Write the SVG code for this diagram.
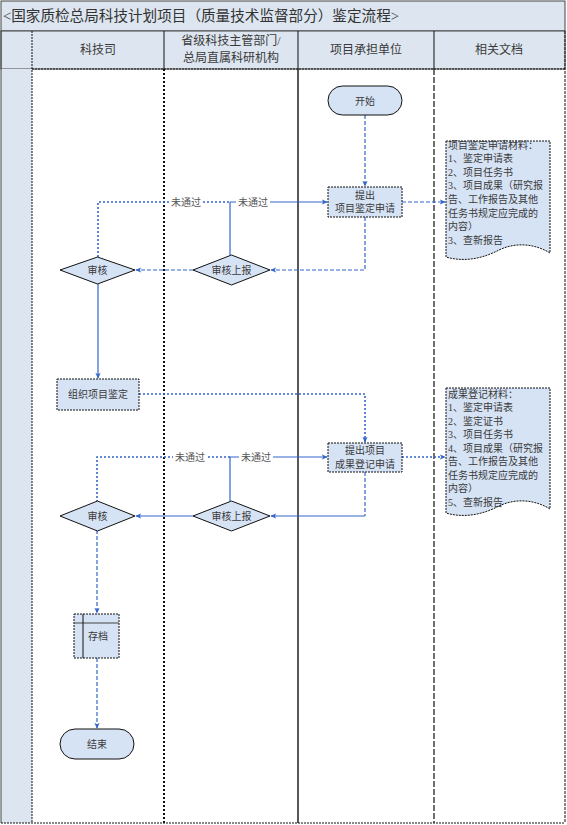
<svg xmlns="http://www.w3.org/2000/svg" width="567" height="825" viewBox="0 0 567 825">
<defs>
<marker id="ah" viewBox="0 0 8 8" refX="7" refY="4" markerWidth="6" markerHeight="6" orient="auto" markerUnits="userSpaceOnUse">
<path d="M0,0.5 L8,4 L0,7.5 L2,4 Z" fill="#3366cc"/>
</marker>
<style>
text{font-family:"Liberation Serif","Noto Sans CJK SC",serif;fill:#3a3a3a}
.t{font-size:14.5px;fill:#333}
.h{font-size:12px;text-anchor:middle}
.n{font-size:10px;text-anchor:middle}
.d{font-size:10px}
.lab{font-size:10px;text-anchor:middle;fill:#555}
.fill{fill:#dde6f0}
.node{fill:#d6e3f5;stroke:#111;stroke-width:1}
.dot{stroke-dasharray:2,1}
.c{fill:none;stroke:#3366cc;stroke-width:1.2}
.cd{stroke-dasharray:2,2;stroke-width:1.6}
.cs{stroke-dasharray:4,2}
</style>
</defs>
<rect width="567" height="825" fill="#ffffff"/>
<g id="frame">
<rect x="1" y="1" width="564" height="30" class="fill" stroke="#444" stroke-width="1"/>
<rect x="1" y="31" width="564" height="38" class="fill" stroke="#444" stroke-width="1"/>
<rect x="1" y="69" width="31" height="754" class="fill"/>
<line x1="1" y1="31" x2="1" y2="823" stroke="#444"/>
<line x1="565" y1="31" x2="565" y2="823" stroke="#111" stroke-dasharray="3,1"/>
<line x1="1" y1="823" x2="565" y2="823" stroke="#111" stroke-dasharray="2,1"/>
<line x1="32" y1="31" x2="32" y2="823" stroke="#111" stroke-dasharray="2,1"/>
<line x1="164" y1="31" x2="164" y2="69" stroke="#111"/>
<line x1="298" y1="31" x2="298" y2="69" stroke="#111"/>
<line x1="434" y1="31" x2="434" y2="69" stroke="#111"/>
<line x1="32" y1="69" x2="565" y2="69" stroke="#111" stroke-dasharray="2,1"/>
<line x1="164" y1="69" x2="164" y2="823" stroke="#111" stroke-width="2" stroke-dasharray="2,2"/>
<line x1="298" y1="69" x2="298" y2="823" stroke="#111" stroke-width="1.4"/>
<line x1="434" y1="69" x2="434" y2="823" stroke="#111" stroke-width="1.2" stroke-dasharray="6,2"/>
<text class="t" x="3" y="21" textLength="396" lengthAdjust="spacingAndGlyphs">&lt;国家质检总局科技计划项目（质量技术监督部分）鉴定流程&gt;</text>
<text class="h" x="98" y="54">科技司</text>
<text class="h" x="231" y="45">省级科技主管部门/</text>
<text class="h" x="231" y="62">总局直属科研机构</text>
<text class="h" x="366" y="54">项目承担单位</text>
<text class="h" x="499" y="54">相关文档</text>
</g>
<g id="connectors">
<path class="c cs" d="M365,115 V186" marker-end="url(#ah)"/>
<path class="c cs" d="M402,202 H445" marker-end="url(#ah)"/>
<path class="c cs" d="M365,217 V270 H271" marker-end="url(#ah)"/>
<path class="c cs" d="M193,270 H136" marker-end="url(#ah)"/>
<path class="c" d="M230,255 V202"/>
<path class="c cd" d="M98,257 V202 H230"/>
<path class="c" d="M230,202 H327" marker-end="url(#ah)"/>
<path class="c" d="M98,284 V378" marker-end="url(#ah)"/>
<path class="c cd" d="M139,394 H365 V442" marker-end="url(#ah)"/>
<path class="c cd" d="M402,457 H445" marker-end="url(#ah)"/>
<path class="c cs" d="M365,472 V516"/>
<path class="c" d="M365,516 H271" marker-end="url(#ah)"/>
<path class="c" d="M193,516 H136" marker-end="url(#ah)"/>
<path class="c" d="M230,501 V457 H327" marker-end="url(#ah)"/>
<path class="c cd" d="M97,502 V457 H230"/>
<path class="c cs" d="M97,530 V613" marker-end="url(#ah)"/>
<path class="c cs" d="M97,658 V728" marker-end="url(#ah)"/>
<rect x="169" y="196" width="34" height="12" fill="#fff"/>
<text class="lab" x="186" y="205.5">未通过</text>
<rect x="236" y="196" width="34" height="12" fill="#fff"/>
<text class="lab" x="253" y="205.5">未通过</text>
<rect x="173" y="451" width="34" height="12" fill="#fff"/>
<text class="lab" x="190" y="460.5">未通过</text>
<rect x="239" y="451" width="34" height="12" fill="#fff"/>
<text class="lab" x="256" y="460.5">未通过</text>
</g>
<g id="start">
<rect x="328" y="86" width="74" height="29" rx="14.5" class="node"/>
<text class="n" x="365" y="104.5">开始</text>
</g>
<g id="apply1">
<rect x="328" y="187" width="74" height="30" class="node dot"/>
<text class="n" x="365" y="198.5">提出</text>
<text class="n" x="365" y="212">项目鉴定申请</text>
</g>
<g id="report1">
<polygon points="193,270 231.5,255 270,270 231.5,285" class="node"/>
<text class="n" x="231.5" y="273.5">审核上报</text>
</g>
<g id="review1">
<polygon points="60,270 97.5,257 135,270 97.5,284" class="node"/>
<text class="n" x="97.5" y="273.5">审核</text>
</g>
<g id="doc1">
<path d="M446,141 H550 V253 C532,242 512,243 497,251 C481,259 463,262 446,257 Z" class="node dot"/>
<text class="d" x="448" y="148.5">项目鉴定申请材料：</text>
<text class="d" x="448" y="162.1">1、鉴定申请表</text>
<text class="d" x="448" y="175.7">2、项目任务书</text>
<text class="d" x="448" y="189.3">3、项目成果（研究报</text>
<text class="d" x="448" y="202.9">告、工作报告及其他</text>
<text class="d" x="448" y="216.5">任务书规定应完成的</text>
<text class="d" x="448" y="230.1">内容）</text>
<text class="d" x="448" y="243.7">3、查新报告</text>
</g>
<g id="organize">
<rect x="57" y="379" width="82" height="31" class="node dot"/>
<text class="n" x="98" y="398">组织项目鉴定</text>
</g>
<g id="apply2">
<rect x="328" y="443" width="74" height="29" class="node dot"/>
<text class="n" x="365" y="454">提出项目</text>
<text class="n" x="365" y="468">成果登记申请</text>
</g>
<g id="report2">
<polygon points="193,516 231.5,501 270,516 231.5,531" class="node"/>
<text class="n" x="231.5" y="519.5">审核上报</text>
</g>
<g id="review2">
<polygon points="60,516 97.5,501 135,516 97.5,531" class="node"/>
<text class="n" x="97.5" y="519.5">审核</text>
</g>
<g id="doc2">
<path d="M446,388 H550 V509 C532,498 512,499 497,507 C481,515 463,518 446,513 Z" class="node dot"/>
<text class="d" x="448" y="397.5">成果登记材料：</text>
<text class="d" x="448" y="411">1、鉴定申请表</text>
<text class="d" x="448" y="424.5">2、鉴定证书</text>
<text class="d" x="448" y="438">3、项目任务书</text>
<text class="d" x="448" y="451.5">4、项目成果（研究报</text>
<text class="d" x="448" y="465">告、工作报告及其他</text>
<text class="d" x="448" y="478.5">任务书规定应完成的</text>
<text class="d" x="448" y="492">内容）</text>
<text class="d" x="448" y="505.5">5、查新报告</text>
</g>
<g id="archive">
<rect x="74" y="614" width="45" height="44" class="node dot"/>
<line x1="74" y1="623" x2="119" y2="623" stroke="#444" stroke-width="1.2"/>
<line x1="83" y1="614" x2="83" y2="658" stroke="#111"/>
<text class="n" x="98" y="640">存档</text>
</g>
<g id="end">
<rect x="60" y="729" width="74" height="30" rx="15" class="node"/>
<text class="n" x="97" y="747.5">结束</text>
</g>
</svg>
